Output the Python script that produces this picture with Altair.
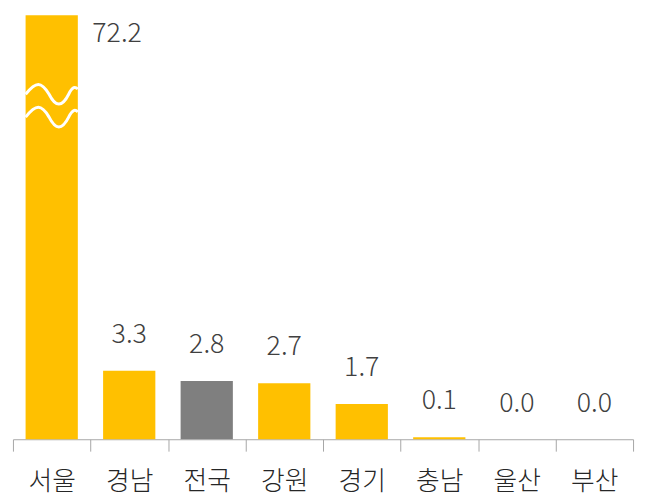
import altair as alt
import pandas as pd

regions = ["서울", "경남", "전국", "강원", "경기", "충남", "울산", "부산"]
values = [72.2, 3.3, 2.8, 2.7, 1.7, 0.1, 0.0, 0.0]
groups = ["region", "region", "nation", "region", "region", "region", "region", "region"]
# broken-axis cap for the tall bar and the levels of the two break waves
axis_cap = 20.4
break_levels = [16.6, 15.5]

FONT = "Noto Sans CJK KR"
WAVE = "M-1,0 C-0.6,-0.5 -0.4,-0.5 -0.1,0 C0.15,0.5 0.4,0.5 0.65,0 C0.8,-0.3 0.9,-0.3 1,-0.2"

df = pd.DataFrame({"region": regions, "value": values, "group": groups})
df["shown"] = df["value"].clip(upper=axis_cap)
df["label"] = df["value"].map(lambda v: f"{v:.1f}")
df["broken"] = df["value"] > axis_cap

xenc = alt.X(
    "region:N",
    sort=regions,
    scale=alt.Scale(paddingInner=0, paddingOuter=0),
    axis=alt.Axis(
        title=None, labelAngle=0, labelFontSize=26, labelColor="#262626",
        labelFont=FONT, labelFontWeight=300, domainColor="#A6A6A6", tickColor="#A6A6A6",
        tickSize=12, tickBand="extent", labelPadding=18,
    ),
)
yenc = alt.Y("shown:Q", scale=alt.Scale(domain=[0, axis_cap], nice=False), axis=None)

base = alt.Chart(df).encode(x=xenc)

bars = base.mark_bar(width=alt.RelativeBandSize(0.674)).encode(
    y=yenc,
    color=alt.Color("group:N", scale=alt.Scale(domain=["region", "nation"],
                                               range=["#FFC000", "#7F7F7F"]), legend=None),
)
labels = base.transform_filter("!datum.broken").mark_text(
    baseline="alphabetic", dy=-28, fontSize=27, fontWeight=300, color="#404040", font=FONT
).encode(y=yenc, text="label:N")
big_label = base.transform_filter("datum.broken").mark_text(
    baseline="alphabetic", dx=66, dy=27, fontSize=27, fontWeight=300, color="#404040", font=FONT
).encode(y=yenc, text="label:N")

wdf = pd.DataFrame({"region": ["서울"] * len(break_levels), "level": break_levels})
waves = alt.Chart(wdf).mark_point(
    shape=WAVE, size=2777, filled=False, color="white", strokeWidth=3, opacity=1
).encode(x=alt.X("region:N", sort=regions), y=alt.Y("level:Q"))

chart = alt.layer(bars, labels, big_label, waves).properties(
    width=626, height=428,
    padding={"left": 4, "top": 5, "right": 5, "bottom": 5},
).configure_view(stroke=None)

chart.save("out.html", embed_options={"renderer": "svg", "actions": False})
